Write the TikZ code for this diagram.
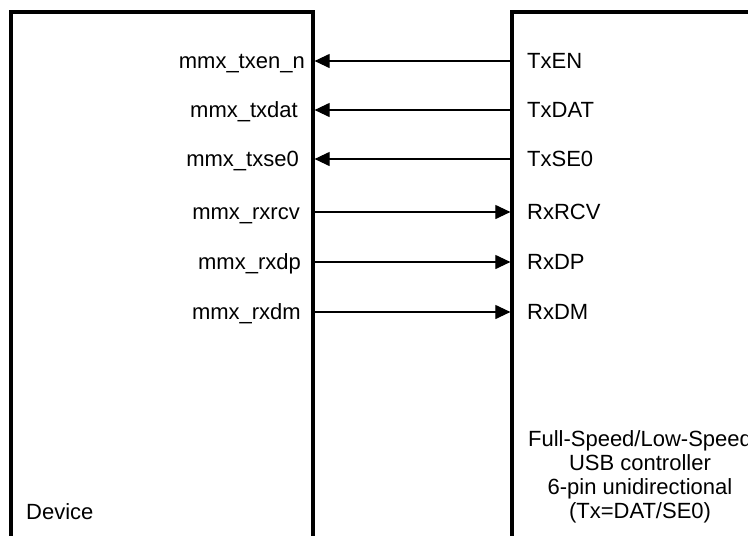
\documentclass[tikz,border=0pt]{standalone}
\usepackage{fontspec}
\setmainfont{Liberation Sans}
\usetikzlibrary{arrows.meta, positioning}

\begin{document}
\begin{tikzpicture}[
    x=1pt, y=-1pt,
    font=\fontsize{22}{24}\selectfont,
    block/.style={draw, line width=3.2pt, inner sep=0pt, anchor=north west},
    pin/.style={inner sep=0pt, text height=15.8pt, text depth=0pt},
    arrow/.style={-{Triangle[length=15pt, width=14pt]}, line width=1.1pt}
]
    \useasboundingbox (0,0) rectangle (748,536);
    \clip (0,0) rectangle (748,536);

    % --- blocks ---
    \node [block, minimum width=302pt, minimum height=540pt] (dev) at (9.4,10.4) {};
    \node [block, minimum width=260pt, minimum height=540pt] (usb) at (510.4,10.4) {};

    % --- device pins ---
    \node [pin, anchor=east] (txenn) at (305,61) {mmx\_txen\_n};
    \node [pin, anchor=east] (txdat) at (298,110) {mmx\_txdat};
    \node [pin, anchor=east] (txse) at (299,159) {mmx\_txse0};
    \node [pin, anchor=east] (rxrcv) at (300,212) {mmx\_rxrcv};
    \node [pin, anchor=east] (rxdp) at (301,262) {mmx\_rxdp};
    \node [pin, anchor=east] (rxdm) at (301,312) {mmx\_rxdm};

    % --- controller pins ---
    \node [pin, anchor=west] (TxEN) at (527,61) {TxEN};
    \node [pin, anchor=west] (TxDAT) at (527,110) {TxDAT};
    \node [pin, anchor=west] (TxSE) at (527,159) {TxSE0};
    \node [pin, anchor=west] (RxRCV) at (527,212) {RxRCV};
    \node [pin, anchor=west] (RxDP) at (527,262) {RxDP};
    \node [pin, anchor=west] (RxDM) at (527,312) {RxDM};

    % --- block names ---
    \node [anchor=base west, inner sep=0pt] (devname) at (26,519) {Device};
    \node [align=center, inner sep=0pt] (usbname) at (640,477) {Full-Speed/Low-Speed\\ USB controller\\ 6-pin unidirectional\\ (Tx=DAT/SE0)};

    % --- signals ---
    \draw [arrow] (usb.west |- TxEN) -- (dev.east |- TxEN);
    \draw [arrow] (usb.west |- TxDAT) -- (dev.east |- TxDAT);
    \draw [arrow] (usb.west |- TxSE) -- (dev.east |- TxSE);
    \draw [arrow] (dev.east |- RxRCV) -- (usb.west |- RxRCV);
    \draw [arrow] (dev.east |- RxDP) -- (usb.west |- RxDP);
    \draw [arrow] (dev.east |- RxDM) -- (usb.west |- RxDM);

\end{tikzpicture}
\end{document}
